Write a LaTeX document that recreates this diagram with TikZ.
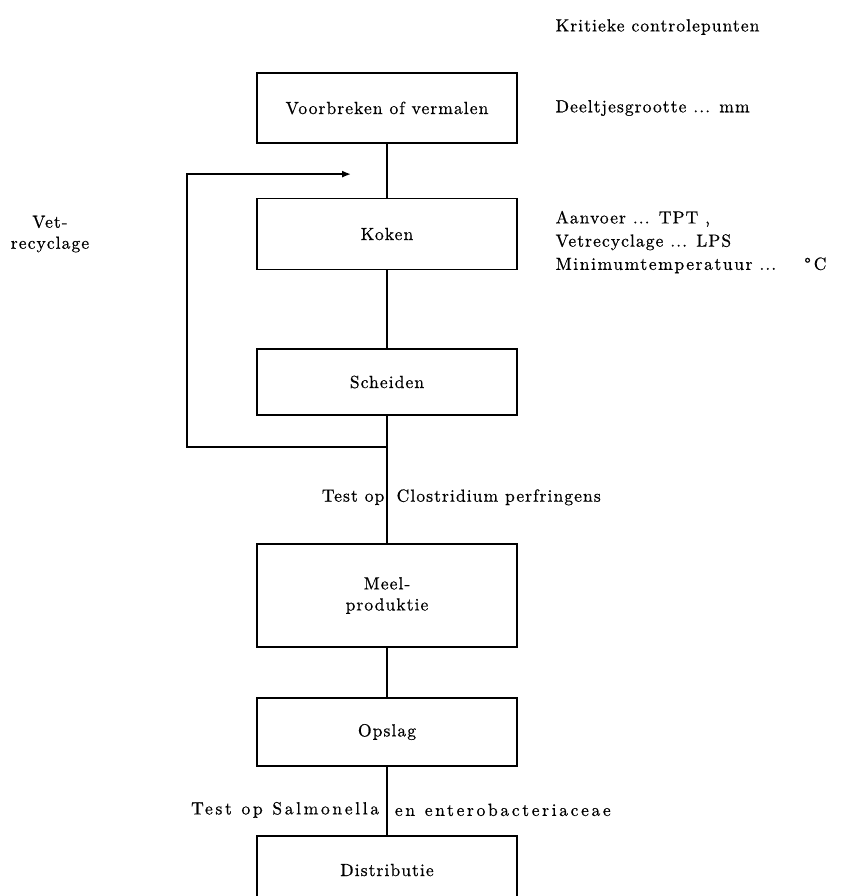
\documentclass[tikz,border=0pt]{standalone}
\usepackage{fontspec}
\setmainfont{lmroman10-regular}[Extension=.otf, LetterSpace=6, FakeBold=0.6]
\usepackage{tikz}
\usetikzlibrary{positioning, arrows.meta}
\newcommand\ruimschrift{\addfontfeatures{LetterSpace=15}\spaceskip=0.55em\relax}

\begin{document}
\begin{tikzpicture}[node distance=3cm,on grid,auto,line width=1pt,
    every node/.style={font=\fontsize{10}{12}\selectfont},
    stap/.style={draw,line width=1pt,minimum width=5.2cm,align=center},
    toets/.style={font=\fontsize{10}{12}\selectfont\ruimschrift}]
      \useasboundingbox (0,0) rectangle (17.18,-17.92);
      \node[stap, minimum height=1.4cm] (breken) at (7.74,-2.16) {Voorbreken of vermalen};
      \node[stap, minimum height=1.42cm] (koken) [below=2.52cm of breken] {Koken};
      \node[stap, minimum height=1.32cm] (scheiden) [below=2.96cm of koken] {Scheiden};
      \node[stap, minimum height=2.06cm] (meel) [below=4.27cm of scheiden] {Meel-\\produktie};
      \node[stap, minimum height=1.36cm] (opslag) [below=2.73cm of meel] {Opslag};
      \node[stap, minimum height=1.36cm] (distr) [below=2.76cm of opslag] {Distributie};
      \node (deeltjes) [right=0.62cm of breken.east, anchor=west] {Deeltjesgrootte ... mm};
      \node (kritiek) [above=1.62cm of deeltjes.west, anchor=west] {Kritieke controlepunten};
      \node (koken_cp) [right=0.62cm of koken.east, anchor=west, yshift=-0.16cm,
                        font=\fontsize{10}{13.2}\selectfont] {
        \begin{tabular}{@{}l@{}}
          Aanvoer ... TPT ,\\
          Vetrecyclage ... LPS\\
          {\addfontfeatures{LetterSpace=9}Minimumtemperatuur} ...\hspace{1.6em}°\,C
        \end{tabular}
      };
      \node (vet) [left=6.74cm of koken] {
        \begin{tabular}{@{}c@{}}
          Vet-\\
          recyclage
        \end{tabular}
      };
      \coordinate [below=0.62cm of scheiden.south] (tak);
      \coordinate [left=4cm of tak] (hoek);
      \coordinate [above left=0.47cm and 0.72cm of koken.north] (terug);
      \path
      (breken) edge (koken)
      (koken) edge (scheiden)
      (scheiden) edge node [pos=0.64, left, inner sep=1pt] {Test op}
                      node [pos=0.64, right, inner sep=5pt] {Clostridium perfringens} (meel)
      (meel) edge (opslag)
      (opslag) edge node [pos=0.63, left, inner sep=4pt, toets] {Test op Salmonella}
                    node [pos=0.63, right, inner sep=4pt, toets] {en enterobacteriaceae} (distr);
      \draw[-{Latex[length=5pt,width=4pt]}] (tak) -- (hoek) |- (terug);
    \end{tikzpicture}
\end{document}
